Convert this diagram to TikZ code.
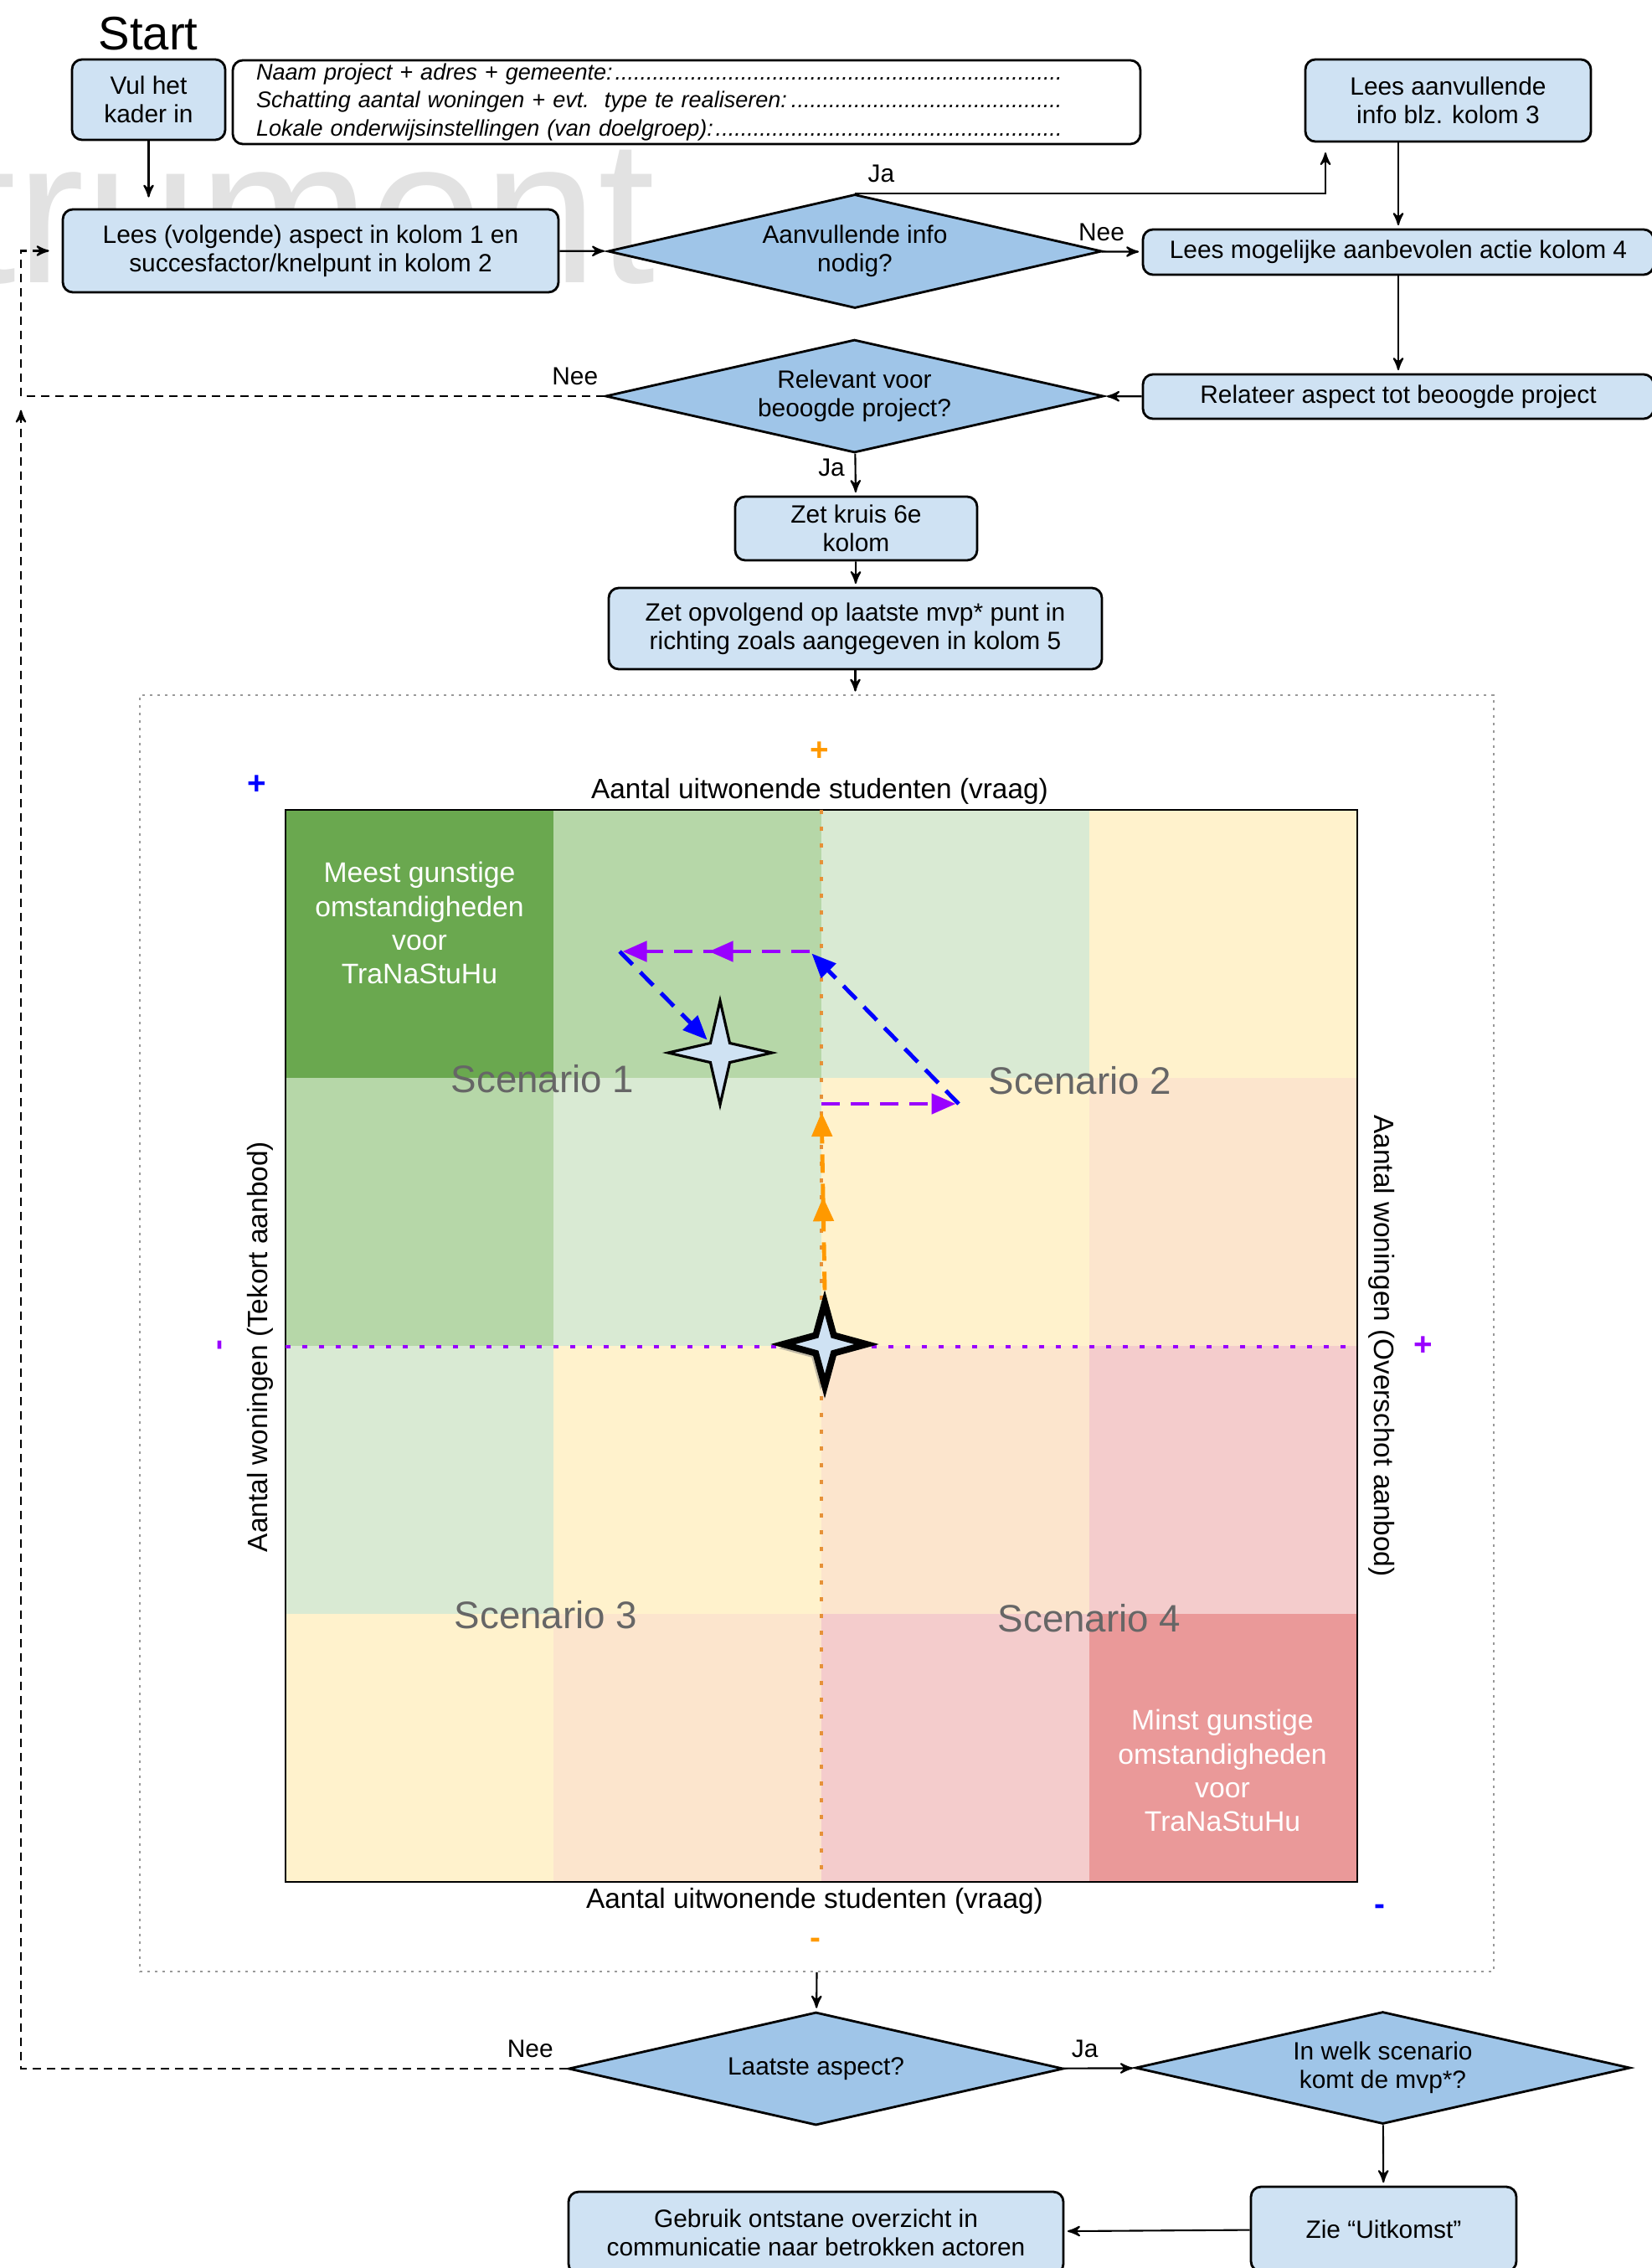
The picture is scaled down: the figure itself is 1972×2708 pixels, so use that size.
\documentclass[tikz,border=0pt]{standalone}
\usepackage{fontspec}
\setmainfont{Liberation Sans}
\usetikzlibrary{
        arrows,
        arrows.meta,
        decorations.markings,
        positioning,
        shadows,
        shapes.geometric
    }
\definecolor{boxblauw}{HTML}{CFE2F3}
\definecolor{ruitblauw}{HTML}{9FC5E8}
\definecolor{cel0}{HTML}{6AA84F}
\definecolor{cel1}{HTML}{B6D7A8}
\definecolor{cel2}{HTML}{D9EAD3}
\definecolor{cel3}{HTML}{FFF2CC}
\definecolor{cel4}{HTML}{FCE5CD}
\definecolor{cel5}{HTML}{F4CCCC}
\definecolor{cel6}{HTML}{EA9999}
\definecolor{oranje}{HTML}{FF9900}
\definecolor{stippeloranje}{HTML}{E69138}
\definecolor{paars}{HTML}{9900FF}
\definecolor{blauw}{HTML}{0000FF}
\definecolor{scenariogrijs}{HTML}{666666}
\definecolor{watermerk}{HTML}{E2E2E2}
\newcommand{\tekst}{\fontsize{8.5}{9.8}\selectfont}
\newcommand{\stippel}{\leaders\hbox{.}\hfill}
\newcommand{\regel}[1]{\leavevmode\hbox to 96.6mm{#1\stippel}}
\tikzset{>=stealth',shorten >=1pt}
\tikzset{
    stap/.style={draw, rounded corners=1.2mm, fill=boxblauw, line width=0.8pt,
        align=center, inner sep=0pt, font=\tekst},
    vraag/.style={diamond, draw, fill=ruitblauw, line width=0.8pt, aspect=4.4,
        align=center, inner sep=0pt, font=\tekst},
    pijl/.style={->, line width=0.6pt},
    terug/.style={->, line width=0.6pt, dash pattern=on 1mm off 0.7mm},
    label/.style={font=\tekst},
    scenario/.style={text=scenariogrijs, font=\fontsize{13}{15}\selectfont},
    as/.style={font=\fontsize{9.5}{11}\selectfont},
    teken/.style={font=\bfseries\fontsize{11}{11}\selectfont, inner sep=0pt},
    zet/.style={line width=1.4pt, dash pattern=on 2.2mm off 1.3mm,
        -{Triangle[length=2.9mm,width=2.4mm]}},
    midpijl/.style={postaction={decorate}, decoration={markings,
        mark=at position #1 with {\arrow{Triangle[length=2.9mm,width=2.4mm]}}}},
    mvpster/.style={star, star points=4, draw, fill=boxblauw, inner sep=0pt}
}

\begin{document}
\begin{tikzpicture}[x=0.1mm, y=-0.1mm]
    \useasboundingbox (0,0) rectangle (1972,2708);
    \node[anchor=base east, inner sep=0pt, text=watermerk, font=\fontsize{69.7}{70}\selectfont]
        (achtergrond) at (783,337) {instrument};

    \node[font=\fontsize{16}{18}\selectfont] (start) at (177,40) {Start};
    \node[stap, minimum width=18.3mm, minimum height=9.6mm] (vul) at (177.5,119) {Vul het\\kader in};
    \node[stap, fill=white, minimum width=108.4mm, minimum height=10mm, inner xsep=2.8mm,
        text width=102.8mm, align=left, font=\fontsize{7.7}{9.4}\selectfont\itshape] (kader) at (820,122)
        {\regel{Naam project + adres + gemeente:}\\
         \regel{Schatting aantal woningen + evt.\ \ type te realiseren:}\\
         \regel{Lokale onderwijsinstellingen (van doelgroep):}};
    \node[stap, minimum width=34.1mm, minimum height=9.8mm] (aanvullend) at (1729.5,120) {Lees aanvullende\\info blz. kolom 3};
    \node[stap, minimum width=59.2mm, minimum height=9.9mm] (lees) at (371,299.5)
        {Lees (volgende) aspect in kolom 1 en\\succesfactor/knelpunt in kolom 2};
    \node[vraag, minimum width=59mm, minimum height=13.6mm] (info) at (1021,300) {Aanvullende info\\nodig?};
    \node[stap, minimum width=61mm, minimum height=5.4mm] (mogelijk) at (1670,301) {Lees mogelijke aanbevolen actie kolom 4};
    \node[stap, minimum width=61mm, minimum height=5.3mm] (relateer) at (1670,473.5) {Relateer aspect tot beoogde project};
    \node[vraag, minimum width=59.5mm, minimum height=13.5mm] (relevant) at (1020.5,473) {Relevant voor\\beoogde project?};
    \node[stap, minimum width=28.9mm, minimum height=7.6mm] (kruis) at (1022.5,631) {Zet kruis 6e\\kolom};
    \node[stap, minimum width=58.9mm, minimum height=9.7mm] (opvolgend) at (1021.5,750.5)
        {Zet opvolgend op laatste mvp* punt in\\richting zoals aangegeven in kolom 5};

    \node[draw=gray!80, line width=0.5pt, dash pattern=on 0.3mm off 0.6mm, minimum width=161.7mm,
        minimum height=152.4mm, inner sep=0pt] (raam) at (975.5,1592) {};
    \foreach \i in {0,...,3}
        \foreach \j in {0,...,3} {
            \pgfmathtruncatemacro\k{\i+\j}
            \fill[cel\k] ({341+320*\i},{967+320*\j}) rectangle ++(320,320);
        }
    \draw[line width=0.5pt] (341,967) rectangle (1621,2247);
    \node[text=white, align=center, font=\fontsize{9.6}{11.4}\selectfont] (meest) at (501,1102)
        {Meest gunstige\\omstandigheden\\voor\\TraNaStuHu};
    \node[text=white, align=center, font=\fontsize{9.6}{11.4}\selectfont] (minst) at (1460,2114)
        {Minst gunstige\\omstandigheden\\voor\\TraNaStuHu};
    \node[scenario] (sc1) at (648,1288) {Scenario 1};
    \node[scenario] (sc2) at (1290,1290) {Scenario 2};
    \node[scenario] (sc3) at (652,1928) {Scenario 3};
    \node[scenario] (sc4) at (1301,1932) {Scenario 4};
    \node[as] (vraagboven) at (979,945) {Aantal uitwonende studenten (vraag)};
    \node[as] (vraagonder) at (973,2270) {Aantal uitwonende studenten (vraag)};
    \node[as, rotate=90] (tekort) at (311,1608) {Aantal woningen (Tekort aanbod)};
    \node[as, rotate=-90] (overschot) at (1650,1607) {Aantal woningen (Overschot aanbod)};
    \node[teken, text=oranje] (plusvraag) at (979,897) {+};
    \node[teken, text=oranje] (minvraag) at (974,2320) {-};
    \node[teken, text=blauw] (plusdiag) at (307,937) {+};
    \node[teken, text=blauw] (mindiag) at (1648,2280) {-};
    \node[teken, text=paars] (pluswoning) at (1700,1607) {+};
    \node[teken, text=paars, rotate=90] (minwoning) at (266,1606) {-};
    \draw[stippeloranje, line width=1.1pt, dash pattern=on 0.5mm off 1.5mm] (981,967) -- (981,2247);
    \draw[paars, line width=1.3pt, dash pattern=on 0.6mm off 1.4mm] (341,1608) -- (1621,1608);

    \node[mvpster, star point ratio=3.3, minimum size=10mm, line width=2.2pt,
        drop shadow={shadow xshift=-0.5mm, shadow yshift=-0.5mm, opacity=0.5}] (mvp) at (985,1605) {};
    \node[mvpster, star point ratio=3.8, minimum size=12.4mm, line width=0.9pt] (mvpnieuw) at (860,1257) {};
    \coordinate (h1) at (981,1318);
    \coordinate (h2) at (1145,1318);
    \coordinate (h3) at (967,1136);
    \coordinate (h4) at (740,1136);
    \draw[zet, oranje, shorten >=1mm, midpijl=0.5] (mvp.north) -- (h1);
    \draw[zet, paars] (h1) -- (h2);
    \draw[zet, blauw] (h2) -- (h3);
    \draw[zet, paars, midpijl=0.53] (h3) -- (h4);
    \draw[zet, blauw] (h4) -- (mvpnieuw);

    \node[vraag, minimum width=59.1mm, minimum height=13.5mm] (laatste) at (974.5,2470) {Laatste aspect?};
    \node[vraag, minimum width=59.1mm, minimum height=13.4mm] (welk) at (1651.5,2469) {In welk scenario\\komt de mvp*?};
    \node[stap, minimum width=31.7mm, minimum height=10.1mm] (zie) at (1652.5,2661.5) {Zie “Uitkomst”};
    \node[stap, minimum width=59.1mm, minimum height=9.8mm] (gebruik) at (974.5,2666)
        {Gebruik ontstane overzicht in\\communicatie naar betrokken actoren};

    \coordinate (links) at (25,0);
    \coordinate (jaknik) at (1583,169);
    \coordinate (terugeind) at (25,486);
    \path[pijl]
        (vul.south)  edge[shorten >=1.3mm]  (vul.south |- lees.north)
        (lees)  edge  (info)
        (aanvullend.south -| mogelijk)  edge  (mogelijk)
        (info)  edge  node[label, at start, above] {Nee} (mogelijk)
        (mogelijk)  edge  (relateer)
        (relateer)  edge  (relevant)
        (relevant)  edge  node[label, pos=0.33, left] {Ja} (kruis)
        (kruis)  edge  (opvolgend)
        (opvolgend)  edge  (opvolgend.south |- raam.north)
        (raam.south)  edge  (laatste)
        (laatste)  edge  node[label, pos=0.3, above] {Ja} (welk)
        (welk)  edge  (zie)
        (zie)  edge  (gebruik)
        ;
    \draw[pijl, shorten >=1.3mm] (info.north) -| node[label, pos=0.028, above] {Ja} (jaknik);
    \draw[terug, shorten >=1.5mm] (relevant.west) -- node[label, pos=0.05, above] {Nee}
        (relevant.west -| links) |- (lees.west);
    \draw[terug] (laatste.west) -| node[label, pos=0.034, above] {Nee} (terugeind);
\end{tikzpicture}
\end{document}
